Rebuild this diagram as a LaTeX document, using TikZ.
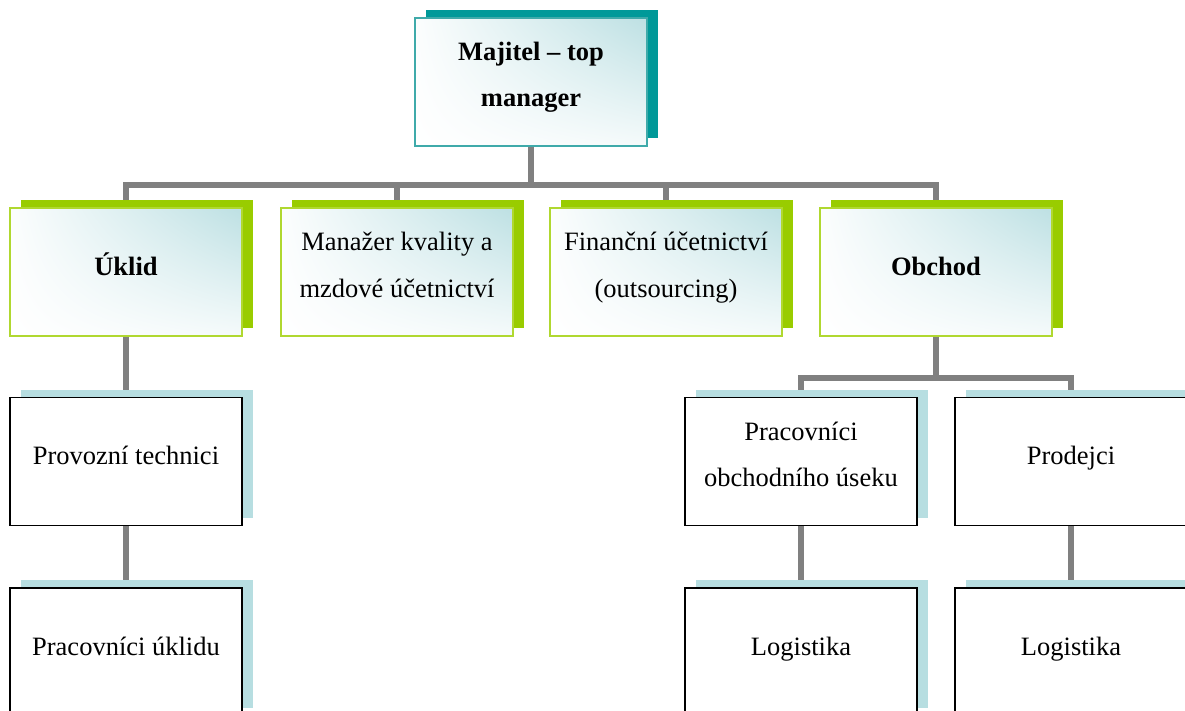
\documentclass[tikz,border=0pt]{standalone}
\usepackage{fontspec}
\setmainfont{Liberation Serif}
\usetikzlibrary{shadows,shadings,backgrounds}
\definecolor{tealshadow}{HTML}{009999}
\definecolor{tealline}{HTML}{3FAAAA}
\definecolor{greenshadow}{HTML}{99CC00}
\definecolor{greenline}{HTML}{B0D830}
\definecolor{paleblue}{HTML}{B7DEE1}
\definecolor{glow}{HTML}{BDE0E3}
\definecolor{connline}{HTML}{808080}

\begin{document}
\begin{tikzpicture}[x=1pt,y=1pt]
\tikzstyle{every node}+=[inner sep=0pt, align=center, font=\fontsize{26.5}{46.5}\selectfont]
\tikzstyle{oneline}=[text height=20pt, text depth=14pt]
\tikzstyle{twolines}=[text height=62pt, text depth=12pt]
\tikzstyle{glowbox}=[minimum width=232pt, minimum height=128pt, line width=1.5pt,
  upper left=white!95!glow, upper right=glow, lower left=white, lower right=white!85!glow]
\tikzstyle{ownerbox}=[glowbox, draw=tealline, general shadow={fill=tealshadow, shadow xshift=11pt, shadow yshift=8pt}]
\tikzstyle{deptbox}=[glowbox, draw=greenline, general shadow={fill=greenshadow, shadow xshift=11pt, shadow yshift=8pt}]
\tikzstyle{staffbox}=[minimum width=232pt, minimum height=128pt, line width=1.5pt, draw=black, fill=white,
  general shadow={fill=paleblue, shadow xshift=11pt, shadow yshift=8pt}]
\tikzstyle{conn}=[draw=connline, line width=5.5pt]
\clip (0,0) rectangle (1185,-711);
\coordinate (bus) at (0,-185);
\coordinate (salesbus) at (0,-378);
\node[ownerbox, twolines] (owner) at (531,-82) {\bfseries Majitel -- top\\\bfseries manager};
\node[deptbox, oneline] (cleaning) at (126,-272) {\bfseries Úklid};
\node[deptbox, twolines] (quality) at (397,-272) {Manažer kvality a\\mzdové účetnictví};
\node[deptbox, twolines] (finance) at (666,-272) {Finanční účetnictví\\(outsourcing)};
\node[deptbox, oneline] (sales) at (936,-272) {\bfseries Obchod};
\node[staffbox, oneline] (technici) at (126,-461.5) {Provozní technici};
\node[staffbox, oneline] (uklizeci) at (126,-652) {Pracovníci úklidu};
\node[staffbox, twolines] (obchodnici) at (801,-461.5) {Pracovníci\\obchodního úseku};
\node[staffbox, oneline] (prodejci) at (1071,-461.5) {Prodejci};
\node[staffbox, oneline] (logistika1) at (801,-652) {Logistika};
\node[staffbox, oneline] (logistika2) at (1071,-652) {Logistika};
\begin{pgfonlayer}{background}
\draw[conn] (owner.south) -- (owner.south |- bus);
\draw[conn] (cleaning.north) -- (cleaning.north |- bus) -- (sales.north |- bus) -- (sales.north);
\draw[conn] (quality.north) -- (quality.north |- bus);
\draw[conn] (finance.north) -- (finance.north |- bus);
\draw[conn] (cleaning.south) -- (technici.north);
\draw[conn] (technici.south) -- (uklizeci.north);
\draw[conn] (sales.south) -- (sales.south |- salesbus);
\draw[conn] (obchodnici.north) -- (obchodnici.north |- salesbus) -- (prodejci.north |- salesbus) -- (prodejci.north);
\draw[conn] (obchodnici.south) -- (logistika1.north);
\draw[conn] (prodejci.south) -- (logistika2.north);
\end{pgfonlayer}
\end{tikzpicture}
\end{document}
